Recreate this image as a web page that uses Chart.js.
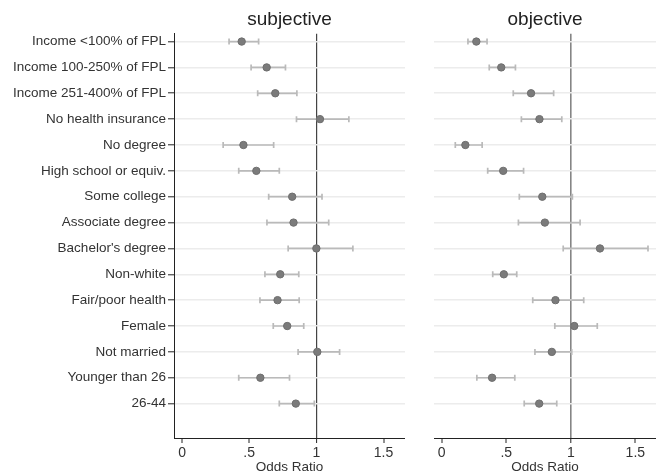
<!DOCTYPE html>
<html>
<head>
<meta charset="utf-8">
<script src="https://cdn.jsdelivr.net/npm/chart.js@4/dist/chart.umd.min.js"></script>
<style>
  body { margin: 0; background: #fff; }
  #wrap { position: relative; width: 661px; height: 475px; overflow: hidden; }
  .panel { position: absolute; top: 0; height: 475px; }
</style>
</head>
<body>
<div id="wrap">
  <div class="panel" style="left:0;width:410px"><canvas id="subjective"></canvas></div>
  <div class="panel" style="left:420px;width:241px"><canvas id="objective"></canvas></div>
</div>
<script>
const categories = [
  "Income <100% of FPL", "Income 100-250% of FPL", "Income 251-400% of FPL",
  "No health insurance", "No degree", "High school or equiv.", "Some college",
  "Associate degree", "Bachelor's degree", "Non-white", "Fair/poor health",
  "Female", "Not married", "Younger than 26", "26-44"
];

// subjective odds ratios and 95% CI
const subjOR = [0.444, 0.63, 0.694, 1.027, 0.457, 0.553, 0.82, 0.83, 1.0, 0.731, 0.711, 0.783, 1.007, 0.583, 0.847];
const subjLo = [0.35, 0.514, 0.563, 0.852, 0.306, 0.422, 0.645, 0.632, 0.79, 0.617, 0.58, 0.679, 0.864, 0.422, 0.724];
const subjHi = [0.57, 0.77, 0.855, 1.242, 0.682, 0.724, 1.042, 1.092, 1.272, 0.869, 0.872, 0.906, 1.173, 0.80, 0.985];

// objective odds ratios and 95% CI
const objOR = [0.268, 0.461, 0.692, 0.757, 0.183, 0.476, 0.779, 0.799, 1.226, 0.481, 0.881, 1.027, 0.853, 0.39, 0.755];
const objLo = [0.203, 0.368, 0.554, 0.617, 0.105, 0.356, 0.601, 0.594, 0.941, 0.395, 0.705, 0.876, 0.722, 0.272, 0.639];
const objHi = [0.351, 0.571, 0.867, 0.93, 0.313, 0.634, 1.012, 1.072, 1.598, 0.581, 1.10, 1.205, 1.007, 0.566, 0.891];

const xTickValues = [0, 0.5, 1, 1.5];
const xTickLabels = ["0", ".5", "1", "1.5"];

const FONT = "'Liberation Sans', Arial, sans-serif";

// draws the CI whiskers behind the points
const ciBars = {
  id: "ciBars",
  beforeDatasetsDraw(chart, args, opts) {
    const { ctx, scales: { x, y } } = chart;
    ctx.save();
    ctx.strokeStyle = "#bababa";
    ctx.lineWidth = 1.7;
    opts.lo.forEach((lo, i) => {
      const yp = y.getPixelForValue(i + 1);
      const x1 = x.getPixelForValue(lo);
      const x2 = x.getPixelForValue(opts.hi[i]);
      ctx.beginPath();
      ctx.moveTo(x1, yp); ctx.lineTo(x2, yp);
      ctx.moveTo(x1, yp - 3); ctx.lineTo(x1, yp + 3);
      ctx.moveTo(x2, yp - 3); ctx.lineTo(x2, yp + 3);
      ctx.stroke();
    });
    ctx.restore();
  }
};

function makePanel(id, title, or, lo, hi, showLabels, refColor, refWidth) {
  const ctx = document.getElementById(id).getContext("2d");
  return new Chart(ctx, {
    type: "scatter",
    data: {
      datasets: [{
        data: or.map((v, i) => ({ x: v, y: i + 1 })),
        backgroundColor: "#7b7b7b",
        borderColor: "#6e6e6e",
        borderWidth: 1,
        pointRadius: 3.7,
      }]
    },
    plugins: [ciBars],
    options: {
      responsive: true,
      maintainAspectRatio: false,
      animation: false,
      layout: { padding: { left: 0, right: showLabels ? 4 : 0, top: 0, bottom: 0 } },
      plugins: {
        legend: { display: false },
        tooltip: { enabled: false },
        title: {
          display: true,
          text: title,
          fullSize: false,
          color: "#222",
          font: { family: FONT, size: 19, weight: "normal" },
          padding: { top: 8, bottom: 3 }
        },
        ciBars: { lo: lo, hi: hi }
      },
      scales: {
        x: {
          type: "linear",
          min: -0.06,
          max: 1.66,
          afterBuildTicks: (s) => { s.ticks = xTickValues.map((v) => ({ value: v })); },
          afterFit: (s) => { s.height = 37; },
          ticks: {
            color: "#333",
            font: { family: FONT, size: 14 },
            padding: 2,
            maxRotation: 0,
            callback: (v) => xTickLabels[xTickValues.indexOf(v)]
          },
          grid: {
            color: (c) => (c.tick && c.tick.value === 1 ? refColor : "rgba(0,0,0,0)"),
            lineWidth: (c) => (c.tick && c.tick.value === 1 ? refWidth : 0),
            tickColor: "#222",
            tickLength: 5,
            tickWidth: 1
          },
          border: { display: true, color: "#222", width: 1 },
          title: {
            display: true,
            text: "Odds Ratio",
            color: "#333",
            font: { family: FONT, size: 13.5 },
            padding: { top: 0, bottom: 0 }
          }
        },
        y: {
          type: "linear",
          reverse: true,
          min: 0.7,
          max: 16.33,
          afterBuildTicks: (s) => { s.ticks = categories.map((c, i) => ({ value: i + 1 })); },
          afterFit: (s) => { s.width = showLabels ? 174 : 14; },
          ticks: {
            display: showLabels,
            color: "#333",
            font: { family: FONT, size: 13.5 },
            padding: 2,
            callback: (v) => categories[v - 1]
          },
          grid: {
            color: "#ececec",
            lineWidth: 1.6,
            drawTicks: showLabels,
            tickColor: "#222",
            tickLength: 6,
            tickWidth: 1
          },
          border: { display: showLabels, color: "#222", width: 1 }
        }
      }
    }
  });
}

makePanel("subjective", "subjective", subjOR, subjLo, subjHi, true, "#444", 1.2);
makePanel("objective", "objective", objOR, objLo, objHi, false, "#858585", 1.6);
</script>
</body>
</html>
